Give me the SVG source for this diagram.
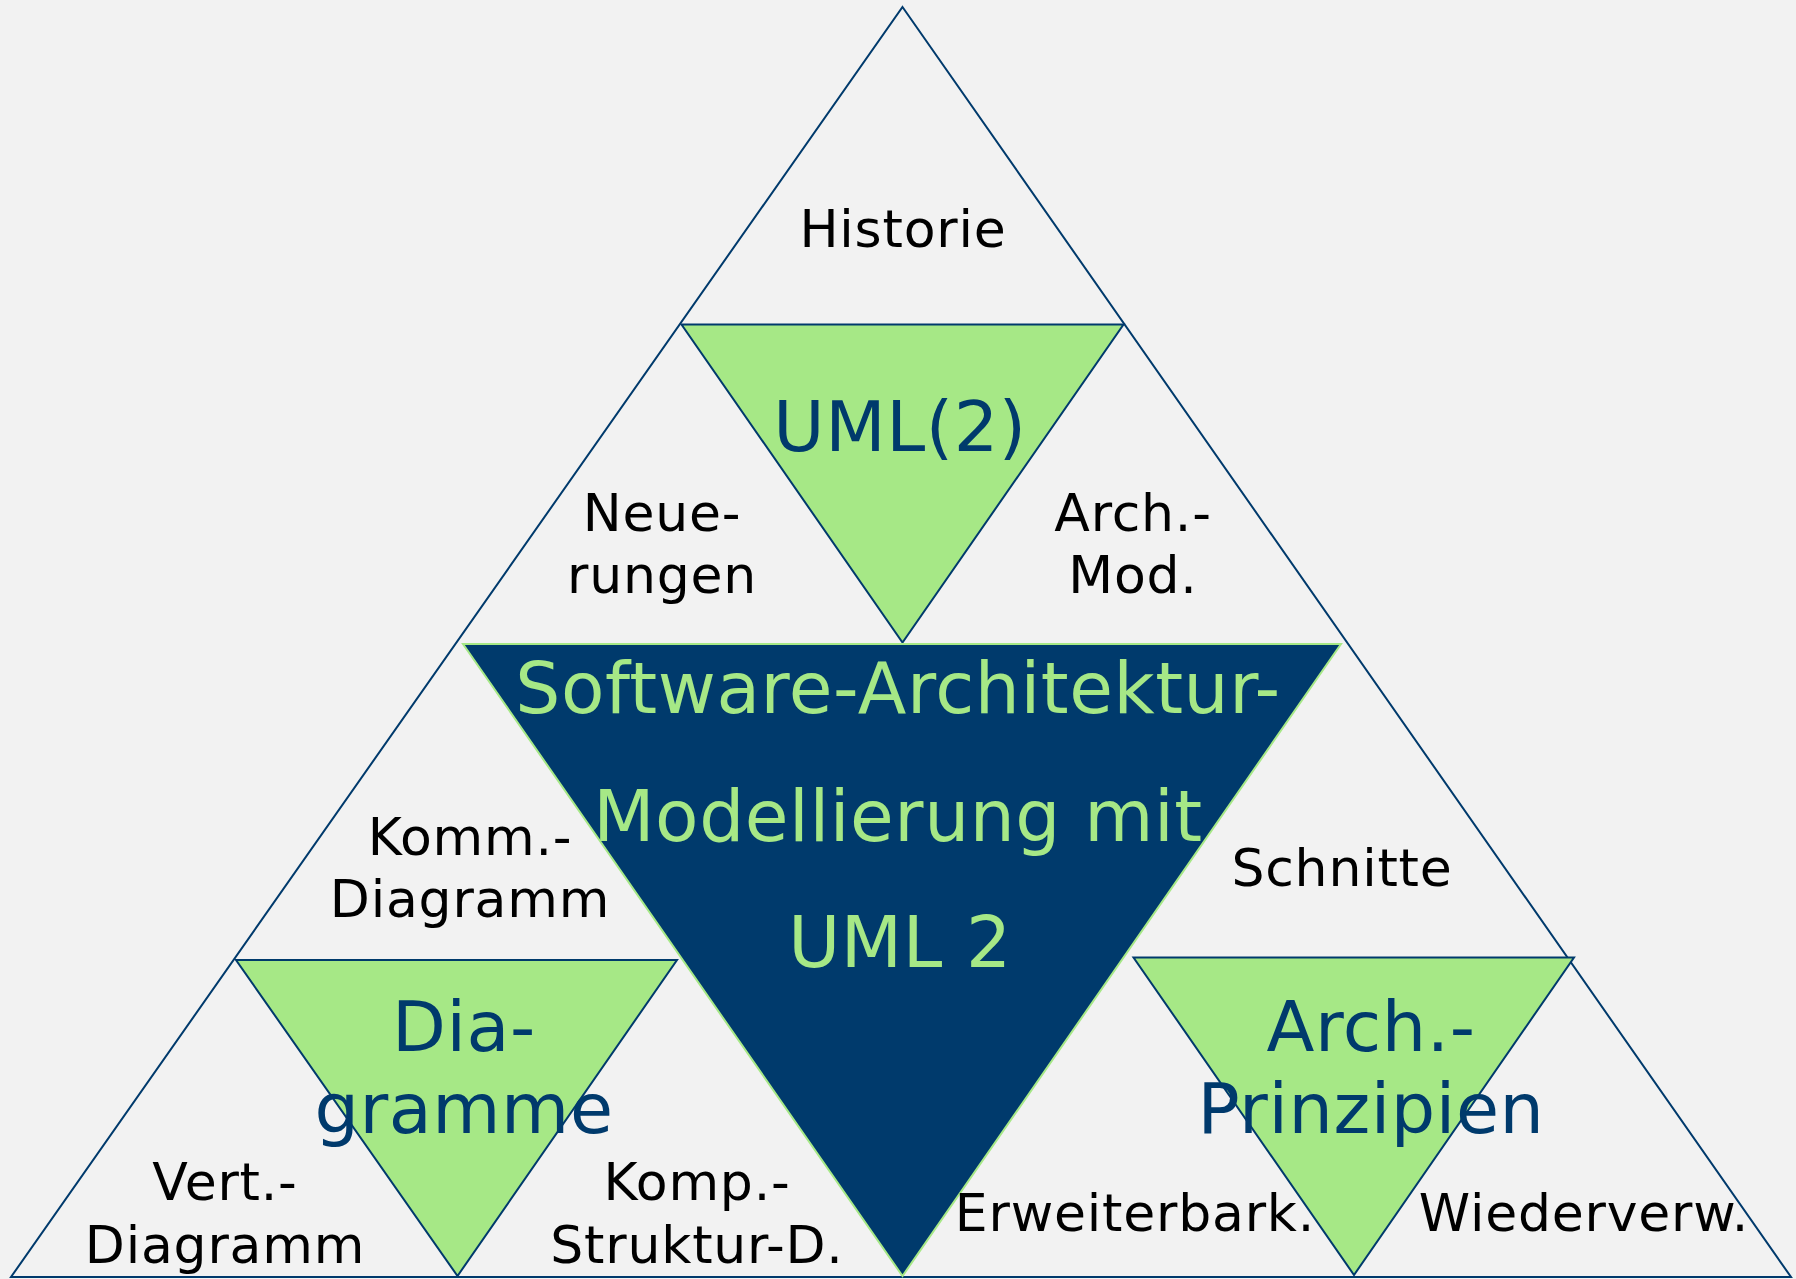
<svg xmlns="http://www.w3.org/2000/svg" width="1796" height="1279" viewBox="0 0 1796 1279">
<style>
.edge{fill:none;stroke:#003A6C;stroke-width:2}
.green{fill:#A6E886;stroke:#003A6C;stroke-width:2}
.dark{fill:#003A6C;stroke:#A6E886;stroke-width:2}
text{font-family:"DejaVu Sans","Verdana",sans-serif;text-anchor:middle}
.lbl{font-size:52px;fill:#000;letter-spacing:0.8px}
.big{font-size:70px;fill:#003A6C;letter-spacing:0.6px}
.ctr{font-size:71px;fill:#A6E886;letter-spacing:0.6px}
</style>
<rect width="1796" height="1279" fill="#F2F2F2"/>
<g id="outer">
<polygon class="edge" points="902.5,7 1791,1277 11,1277"/>
</g>
<g id="top-green">
<polygon class="green" points="681.5,324.5 1123.5,324.5 902.5,642.5"/>
</g>
<g id="center">
<polygon class="dark" points="463,644 1341,644 902.5,1276"/>
</g>
<g id="left-green">
<polygon class="green" points="236,960 677,960 457.5,1276"/>
</g>
<g id="right-green">
<polygon class="green" points="1133.5,957.5 1574,957.5 1354,1275"/>
</g>
<g id="connectors"></g>
<g id="labels">
<text class="lbl" x="903" y="247">Historie</text>
<text class="big" x="900" y="451">UML(2)</text>
<text class="lbl" x="662" y="531">Neue-</text>
<text class="lbl" x="662" y="593">rungen</text>
<text class="lbl" x="1133" y="531">Arch.-</text>
<text class="lbl" x="1133" y="593">Mod.</text>
<text class="ctr" x="898" y="713">Software-Architektur-</text>
<text class="ctr" x="898" y="841">Modellierung mit</text>
<text class="ctr" x="900" y="967">UML 2</text>
<text class="lbl" x="470" y="855">Komm.-</text>
<text class="lbl" x="470" y="917">Diagramm</text>
<text class="lbl" x="1342" y="886">Schnitte</text>
<text class="big" x="464" y="1051">Dia-</text>
<text class="big" x="464" y="1133">gramme</text>
<text class="big" x="1371" y="1051">Arch.-</text>
<text class="big" x="1371" y="1133">Prinzipien</text>
<text class="lbl" x="225" y="1200">Vert.-</text>
<text class="lbl" x="225" y="1263">Diagramm</text>
<text class="lbl" x="697" y="1200">Komp.-</text>
<text class="lbl" x="697" y="1263">Struktur-D.</text>
<text class="lbl" x="1135" y="1231">Erweiterbark.</text>
<text class="lbl" x="1584" y="1231">Wiederverw.</text>
</g>
</svg>
